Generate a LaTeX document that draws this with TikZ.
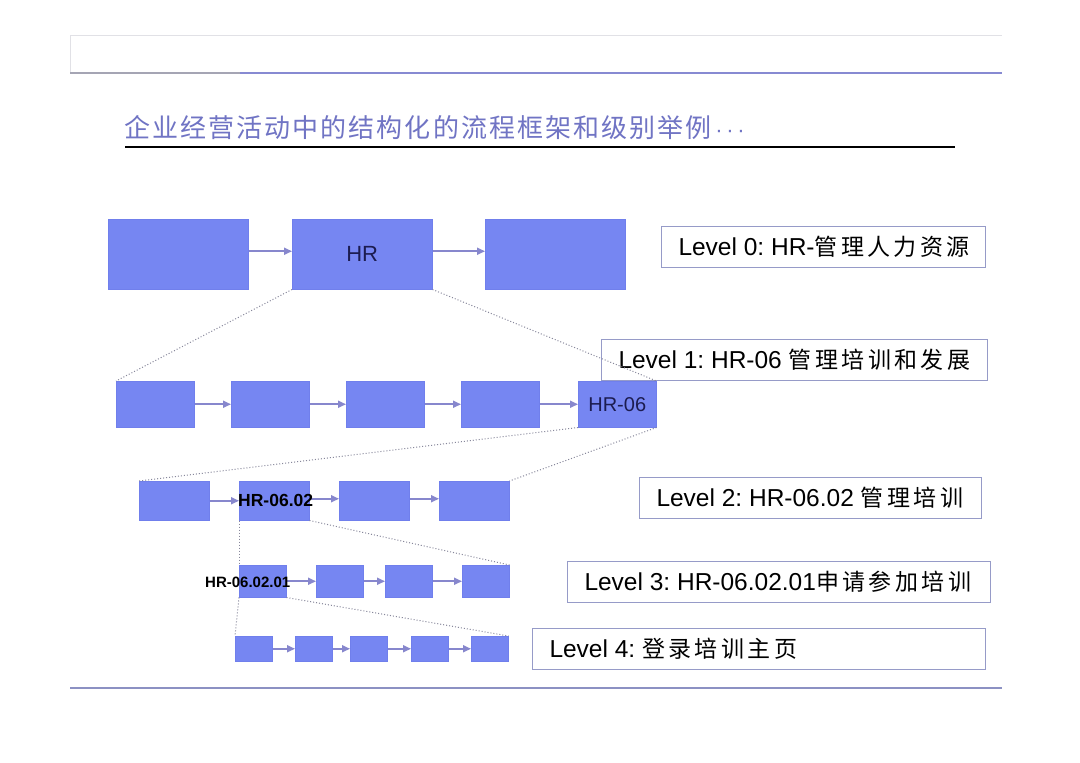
\documentclass[tikz,border=0pt]{standalone}
\usepackage{fontspec}
\setmainfont{Liberation Sans}
\newfontfamily\cjk[LetterSpace=15]{Noto Sans CJK SC}
\newfontfamily\cjkt[LetterSpace=8]{Noto Sans CJK SC}
\usetikzlibrary{arrows.meta}
\definecolor{boxfill}{RGB}{118,134,242}
\definecolor{boxline}{RGB}{112,127,236}
\definecolor{arr}{RGB}{135,135,205}
\definecolor{dotc}{RGB}{135,135,155}
\definecolor{lblline}{RGB}{150,155,200}
\definecolor{titlec}{RGB}{112,116,196}
\definecolor{navy}{RGB}{28,28,80}
\definecolor{rulegray}{RGB}{165,165,180}
\definecolor{ruleblue}{RGB}{135,138,210}
\definecolor{rulebot}{RGB}{140,145,195}
\newcommand\zh[1]{{\fontsize{23}{27}\selectfont\cjk #1}}
\newcommand\labtext[2]{\makebox[#1][l]{#2}}
\frenchspacing
\begin{document}
\frenchspacing
\begin{tikzpicture}[x=1pt,y=-1pt,
  blk/.style={draw=boxline, line width=0.5pt, fill=boxfill, inner sep=0pt, anchor=north west},
  flow/.style={draw=arr, line width=1.8pt, -{Triangle[length=8pt,width=7pt]}},
  zoomline/.style={draw=dotc, line width=1pt, dotted},
  lbl/.style={draw=lblline, line width=1pt, anchor=north west, minimum height=41pt, inner ysep=0pt, inner xsep=17pt, font=\fontsize{24.5}{28}\selectfont\frenchspacing},
  inlbl/.style={text=navy, font=\fontsize{20}{24}\selectfont},
  codelbl/.style={anchor=west, inner sep=0pt, text=black, font=\bfseries}
]
\useasboundingbox[fill=white] (0,0) rectangle (1080,763);

% header rules
\draw[draw={rgb,255:red,225;green,225;blue,230}, line width=0.8pt] (70,73) -- (70,35) -- (1002,35);
\draw[rulegray, line width=1.6pt] (70,73) -- (240,73);
\draw[ruleblue, line width=1.8pt] (240,73) -- (1002,73);
\draw[rulebot, line width=2.4pt] (70,688) -- (1002,688);

% title
\node[anchor=west, inner sep=0pt, text=titlec] (title) at (124,128)
  {{\fontsize{26}{30}\selectfont\cjkt 企业经营活动中的结构化的流程框架和级别举例}{\fontsize{22}{26}\selectfont\,·\,·\,·}};
\draw[black, line width=1.4pt] (125,147) -- (955,147);

% Level 0
\node[blk, minimum width=140pt, minimum height=70pt] (a1) at (108,219) {};
\node[blk, minimum width=140pt, minimum height=70pt, inlbl, font=\fontsize{22}{26}\selectfont] (a2) at (292,219) {HR};
\node[blk, minimum width=140pt, minimum height=70pt] (a3) at (485,219) {};
\draw[flow] ([yshift=3pt]a1.east) -- ([yshift=3pt]a2.west);
\draw[flow] ([yshift=3pt]a2.east) -- ([yshift=3pt]a3.west);

% Level 1
\node[blk, minimum width=78pt, minimum height=46pt] (b1) at (116,381) {};
\node[blk, minimum width=78pt, minimum height=46pt] (b2) at (231,381) {};
\node[blk, minimum width=78pt, minimum height=46pt] (b3) at (346,381) {};
\node[blk, minimum width=78pt, minimum height=46pt] (b4) at (461,381) {};
\node[blk, minimum width=78pt, minimum height=46pt, inlbl] (b5) at (578,381) {HR-06};
\draw[flow] (b1.east) -- (b2.west);
\draw[flow] (b2.east) -- (b3.west);
\draw[flow] (b3.east) -- (b4.west);
\draw[flow] (b4.east) -- (b5.west);

% Level 2
\node[blk, minimum width=70pt, minimum height=39pt] (c1) at (139,481) {};
\node[blk, minimum width=70pt, minimum height=39pt] (c2) at (239,481) {};
\node[blk, minimum width=70pt, minimum height=39pt] (c3) at (339,481) {};
\node[blk, minimum width=70pt, minimum height=39pt] (c4) at (439,481) {};
\draw[flow] (c1.east) -- (c2.west);
\draw[flow] ([yshift=2pt]c2.east) -- ([yshift=2pt]c3.west);
\draw[flow] ([yshift=2pt]c3.east) -- ([yshift=2pt]c4.west);
\node[codelbl, font=\bfseries\fontsize{17.5}{20}\selectfont] (c2t) at (238,500) {HR-06.02};

% Level 3
\node[blk, minimum width=47pt, minimum height=32pt] (d1) at (239,565) {};
\node[blk, minimum width=47pt, minimum height=32pt] (d2) at (316,565) {};
\node[blk, minimum width=47pt, minimum height=32pt] (d3) at (385,565) {};
\node[blk, minimum width=47pt, minimum height=32pt] (d4) at (462,565) {};
\draw[flow] (d1.east) -- (d2.west);
\draw[flow] (d2.east) -- (d3.west);
\draw[flow] (d3.east) -- (d4.west);
\node[codelbl, font=\bfseries\fontsize{15}{18}\selectfont] (d1t) at (205,582) {HR-06.02.01};

% Level 4
\node[blk, minimum width=37pt, minimum height=25pt] (e1) at (235,636) {};
\node[blk, minimum width=37pt, minimum height=25pt] (e2) at (295,636) {};
\node[blk, minimum width=37pt, minimum height=25pt] (e3) at (350,636) {};
\node[blk, minimum width=37pt, minimum height=25pt] (e4) at (411,636) {};
\node[blk, minimum width=37pt, minimum height=25pt] (e5) at (471,636) {};
\draw[flow] (e1.east) -- (e2.west);
\draw[flow] (e2.east) -- (e3.west);
\draw[flow] (e3.east) -- (e4.west);
\draw[flow] (e4.east) -- (e5.west);

% level labels
\node[lbl] (t0) at (661,226) {\labtext{290pt}{Level 0: HR-\zh{管理人力资源}}};
\node[lbl] (t1) at (601,339) {\labtext{352pt}{Level 1: HR-06 \zh{管理培训和发展}}};
\node[lbl] (t2) at (639,477) {\labtext{308pt}{Level 2: HR-06.02 \zh{管理培训}}};
\node[lbl] (t3) at (567,561) {\labtext{389pt}{Level 3: HR-06.02.01\zh{申请参加培训}}};
\node[lbl] (t4) at (532,628) {\labtext{419pt}{Level 4: \zh{登录培训主页}}};

% zoom connectors
\draw[zoomline] (a2.south west) -- (b1.north west);
\draw[zoomline] (a2.south east) -- (b5.north east);
\draw[zoomline] (b5.south west) -- (c1.north west);
\draw[zoomline] (b5.south east) -- (c4.north east);
\draw[zoomline] (c2.south west) -- (d1.north west);
\draw[zoomline] (c2.south east) -- (d4.north east);
\draw[zoomline] (d1.south west) -- (e1.north west);
\draw[zoomline] (d1.south east) -- (e5.north east);
\end{tikzpicture}
\end{document}
